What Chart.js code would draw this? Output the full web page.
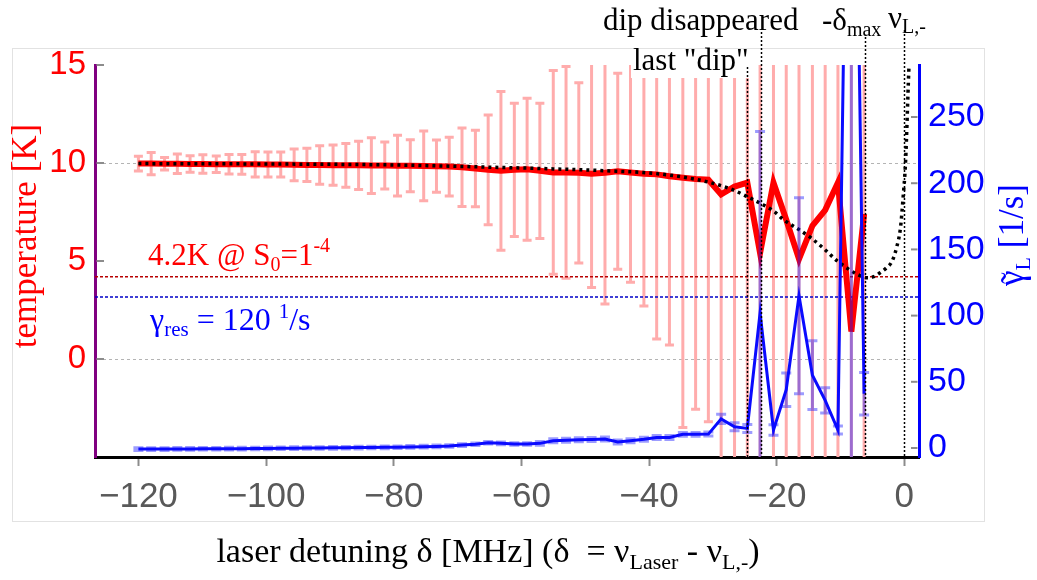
<!DOCTYPE html>
<html><head><meta charset="utf-8">
<script src="https://cdn.jsdelivr.net/npm/chart.js@4.4.1/dist/chart.umd.min.js"></script>
<style>html,body{margin:0;padding:0;background:#fff;}#wrap{width:1037px;height:580px;position:relative;}</style>
</head><body><div id="wrap"><canvas id="c"></canvas></div>
<script>
// ---------------- data ----------------
const detuning = [-120.0,-118.0,-115.9,-113.9,-111.9,-109.9,-107.8,-105.8,-103.8,-101.7,
  -99.7,-97.7,-95.6,-93.6,-91.6,-89.5,-87.5,-85.5,-83.5,-81.4,
  -79.4,-77.4,-75.3,-73.3,-71.3,-69.3,-67.2,-65.2,-63.2,-61.1,
  -59.1,-57.1,-55.0,-53.0,-51.0,-49.0,-46.9,-44.9,-42.9,-40.8,
  -38.8,-36.8,-34.7,-32.7,-30.7,-28.7,-26.6,-24.6,-22.6,-20.5,
  -18.5,-16.5,-14.4,-12.4,-10.4,-8.3,-6.3];
const temperature = [9.97,9.97,9.96,9.96,9.95,9.95,9.94,9.94,9.93,9.93,
  9.92,9.92,9.91,9.90,9.90,9.89,9.88,9.88,9.87,9.87,
  9.86,9.86,9.85,9.84,9.82,9.78,9.72,9.65,9.60,9.65,
  9.68,9.60,9.52,9.52,9.50,9.45,9.50,9.58,9.52,9.45,
  9.42,9.32,9.25,9.18,9.15,8.40,8.80,9.00,5.40,9.00,
  7.10,5.10,6.80,7.60,9.00,1.40,7.40];
const temperatureErr = [0.38,0.57,0.32,0.50,0.42,0.47,0.42,0.50,0.50,0.64,
  0.64,0.64,0.81,0.85,0.98,1.03,1.12,1.23,1.42,1.20,
  1.55,1.33,1.78,1.33,1.50,2.00,1.95,2.80,4.05,3.40,
  3.62,3.45,5.20,5.40,4.60,5.80,6.70,5.00,5.60,6.75,
  8.40,8.60,12.75,11.75,12.35,25,25,25,25,25,
  25,25,25,25,25,25,25];
const gammaL = [-0.8,-0.8,-0.8,-0.7,-0.7,-0.6,-0.6,-0.5,-0.5,-0.4,
  -0.3,-0.2,-0.1,0,0,0.1,0.2,0.3,0.4,0.5,
  0.6,0.8,1.0,1.2,1.5,2.2,2.8,4.0,3.5,3.0,
  3.0,3.5,5.5,5.8,6.2,6.5,6.8,4.5,5.5,6.6,
  8.0,8.0,10.3,10.3,10.5,22,16,14.8,102,13.6,
  44,115,55,36,13.6,700,41];
const gammaErr = [1,1,1,1,1,1,1,1,1,1,
  1,1,1,1,1,1,1,1,1,1,
  1,1,1,1,1,1,1,1,1,1,
  1,1.5,1.5,1.5,1.5,1.5,1.5,1.5,1.5,1.5,
  1.5,1.5,1.5,1.5,1.5,3.5,3,3,137,4,
  12.6,74,26,9.5,3,1000,16];
const theoryX = [-120,-100,-80,-66.5,-55,-45,-40.3,-35,-30.4,-27,-24.7,-22.6,-20.5,-18.9,-16.5,-14.7,-12.5,-10.5,-8.8,-7.4,-5.8,-4.8,-3.8,-2.8,-1.9,-1.2,-0.6,-0.2,0.2,0.7,1.0];
const theoryT = [9.97,9.95,9.9,9.8,9.7,9.58,9.5,9.3,9.0,8.65,8.3,7.95,7.55,7.1,6.6,6.2,5.6,5.0,4.6,4.32,4.15,4.2,4.4,4.65,5.0,5.7,6.7,8.2,10.1,14.7,17];
const xTicks = [-120,-100,-80,-60,-40,-20,0];
const tempTicks = [0,5,10,15];
const gammaTicks = [0,50,100,150,200,250];
const tempGridValues = [0,10];
const refTemp = [4.2];
const refGamma = [114];
const markerX = [-24.7,-22.4,-6.1,0];

// ---------------- drawing ----------------
const SERIF = "'Liberation Serif','Times New Roman',serif";
const SANS = "'Liberation Sans',Arial,sans-serif";

function rich(ctx, x, y, parts, color, align) {
  ctx.fillStyle = color; ctx.textBaseline = 'alphabetic'; ctx.textAlign = 'left';
  let total = 0;
  for (const p of parts) { ctx.font = p[1] + 'px ' + SERIF; total += ctx.measureText(p[0]).width; }
  let cx = align === 'center' ? x - total / 2 : x;
  const starts = [];
  for (const p of parts) {
    ctx.font = p[1] + 'px ' + SERIF;
    starts.push(cx);
    ctx.fillText(p[0], cx, y + (p[2] || 0));
    cx += ctx.measureText(p[0]).width;
  }
  return starts;
}

function errBars(chart, xs, ys, es, axis, color, width, cap) {
  const ctx = chart.ctx, sx = chart.scales.x, sy = chart.scales[axis], a = chart.chartArea;
  ctx.save();
  ctx.beginPath(); ctx.rect(a.left, a.top, a.right - a.left, a.bottom - a.top); ctx.clip();
  ctx.strokeStyle = color; ctx.lineWidth = width; ctx.lineCap = 'butt';
  for (let i = 0; i < xs.length; i++) {
    const px = sx.getPixelForValue(xs[i]);
    const y1 = sy.getPixelForValue(ys[i] + es[i]);
    const y2 = sy.getPixelForValue(ys[i] - es[i]);
    ctx.beginPath();
    ctx.moveTo(px, y1); ctx.lineTo(px, y2);
    ctx.moveTo(px - cap, y1); ctx.lineTo(px + cap, y1);
    ctx.moveTo(px - cap, y2); ctx.lineTo(px + cap, y2);
    ctx.stroke();
  }
  ctx.restore();
}

const figPlugin = {
  id: 'fig',
  beforeDraw(chart) {
    const ctx = chart.ctx;
    ctx.save();
    ctx.fillStyle = '#fff'; ctx.fillRect(0, 0, chart.width, chart.height);
    ctx.strokeStyle = '#e2e2e2'; ctx.lineWidth = 1;
    ctx.strokeRect(12.5, 48.5, 972, 473);
    ctx.restore();
  },
  beforeDatasetsDraw(chart) {
    const ctx = chart.ctx, a = chart.chartArea;
    errBars(chart, detuning, temperature, temperatureErr, 'yT', '#ffacac', 3, 4.5);
    ctx.save();
    ctx.lineWidth = 1.5; ctx.setLineDash([3, 2]);
    ctx.strokeStyle = '#b80000';
    for (const v of refTemp) { const y = chart.scales.yT.getPixelForValue(v); ctx.beginPath(); ctx.moveTo(a.left, y); ctx.lineTo(a.right, y); ctx.stroke(); }
    ctx.strokeStyle = '#0000c8';
    for (const v of refGamma) { const y = chart.scales.yG.getPixelForValue(v); ctx.beginPath(); ctx.moveTo(a.left, y); ctx.lineTo(a.right, y); ctx.stroke(); }
    ctx.restore();
    ctx.save(); ctx.strokeStyle = '#8c8c8c'; ctx.lineWidth = 2;
    for (const v of tempTicks) { const y = chart.scales.yT.getPixelForValue(v); ctx.beginPath(); ctx.moveTo(a.left + 1.5, y); ctx.lineTo(a.left + 9, y); ctx.stroke(); }
    for (const v of gammaTicks) { const y = chart.scales.yG.getPixelForValue(v); ctx.beginPath(); ctx.moveTo(a.right - 8, y); ctx.lineTo(a.right - 1.5, y); ctx.stroke(); }
    ctx.restore();
  },
  afterDatasetDraw(chart, args) {
    if (args.index === 1) errBars(chart, detuning, gammaL, gammaErr, 'yG', 'rgba(20,20,255,0.42)', 3, 5);
  },
  afterDraw(chart) {
    const ctx = chart.ctx, sx = chart.scales.x, a = chart.chartArea;
    ctx.save();
    ctx.fillStyle = '#fff'; ctx.fillRect(631, 50, 123, 28);
    const tops = [67, 32, 37, 30];
    ctx.strokeStyle = '#000'; ctx.lineWidth = 1.5; ctx.setLineDash([2, 2]);
    markerX.forEach((v, i) => {
      const px = Math.round(sx.getPixelForValue(v)) + 0.5;
      ctx.beginPath(); ctx.moveTo(px, tops[i]); ctx.lineTo(px, a.bottom); ctx.stroke();
    });
    ctx.setLineDash([]);
    rich(ctx, 603, 30, [['dip disappeared', 31]], '#000');
    rich(ctx, 822, 30, [['-\u03b4', 31], ['max', 20, 6]], '#000');
    rich(ctx, 888, 28, [['\u03bd', 31], ['L,-', 20, 5]], '#000');
    rich(ctx, 633, 70, [['last "dip"', 31]], '#000');
    rich(ctx, 148, 265, [['4.2K @ S', 31], ['0', 20, 6], ['=1', 31], ['-4', 20, -13]], '#ff0000');
    rich(ctx, 150, 330, [['\u03b3', 32], ['res', 21, 6], [' = 120 ', 32], ['1', 21, -12], ['/s', 32]], '#0000ff');
    rich(ctx, 488, 562, [['laser detuning \u03b4 [MHz] (\u03b4  = \u03bd', 34], ['Laser', 22, 7], [' - \u03bd', 34], ['L,-', 22, 7], [')', 34]], '#000', 'center');
    ctx.save(); ctx.translate(36, 236); ctx.rotate(-Math.PI / 2);
    rich(ctx, 0, 0, [['temperature [K]', 35]], '#ff0000', 'center');
    ctx.restore();
    ctx.save(); ctx.translate(1023, 235); ctx.rotate(-Math.PI / 2);
    const st = rich(ctx, 0, 0, [['\u03b3', 35], ['L', 22, 7], [' [1/s]', 35]], '#0000ff', 'center');
    ctx.font = '35px ' + SERIF;
    const gw = ctx.measureText('\u03b3').width;
    ctx.textAlign = 'center';
    ctx.fillText('\u02dc', st[0] + gw / 2, 3);
    ctx.restore();
    ctx.restore();
  }
};

Chart.defaults.font.family = SANS;
new Chart(document.getElementById('c'), {
  type: 'line',
  data: { datasets: [
    { label: 'temperature', data: detuning.map((x, i) => ({ x, y: temperature[i] })), yAxisID: 'yT',
      borderColor: '#ff0000', borderWidth: 6, pointRadius: 0, order: 3, borderJoinStyle: 'miter' },
    { label: 'theory', data: theoryX.map((x, i) => ({ x, y: theoryT[i] })), yAxisID: 'yT',
      borderColor: '#000', borderWidth: 3.5, borderDash: [3, 4], pointRadius: 0, order: 2, cubicInterpolationMode: 'monotone' },
    { label: 'gamma', data: detuning.map((x, i) => ({ x, y: gammaL[i] })), yAxisID: 'yG',
      borderColor: '#0a0aff', borderWidth: 3, pointRadius: 0, order: 1 }
  ]},
  options: {
    responsive: true, maintainAspectRatio: false, animation: false, devicePixelRatio: 1,
    layout: { padding: { top: 65, left: 0, right: 0, bottom: 0 } },
    plugins: { legend: { display: false }, tooltip: { enabled: false } },
    scales: {
      x: { type: 'linear', position: 'bottom', min: -126.8, max: 2.3,
        afterBuildTicks: s => { s.ticks = xTicks.map(v => ({ value: v })); },
        afterFit: s => { s.height = 123; },
        grid: { drawOnChartArea: false, drawTicks: true, tickLength: 9, tickColor: '#8c8c8c', tickWidth: 2, color: 'rgba(0,0,0,0)' },
        border: { display: true, color: '#000', width: 3 },
        ticks: { color: '#595959', font: { family: SANS, size: 35 }, padding: 10, maxRotation: 0, autoSkip: false,
          callback: v => v < 0 ? '\u2212' + Math.abs(v) : String(v) } },
      yT: { type: 'linear', position: 'left', min: -5, max: 15,
        afterBuildTicks: s => { s.ticks = tempTicks.map(v => ({ value: v })); },
        afterFit: s => { s.width = 95; },
        grid: { drawTicks: false, lineWidth: 1,
          color: c => (c.tick && tempGridValues.includes(c.tick.value)) ? '#b4b4b4' : 'rgba(0,0,0,0)' },
        border: { display: true, color: '#800080', width: 3, dash: [3, 3] },
        ticks: { color: '#ff0000', font: { family: SANS, size: 33 }, padding: 9 } },
      yG: { type: 'linear', position: 'right', min: -6.8, max: 289.3,
        afterBuildTicks: s => { s.ticks = gammaTicks.map(v => ({ value: v })); },
        afterFit: s => { s.width = 118; },
        grid: { drawOnChartArea: false, drawTicks: false },
        border: { display: true, color: '#0000ff', width: 3 },
        ticks: { color: '#0000ff', font: { family: SANS, size: 34 }, padding: 9 } }
    }
  },
  plugins: [figPlugin]
});
</script></body></html>
